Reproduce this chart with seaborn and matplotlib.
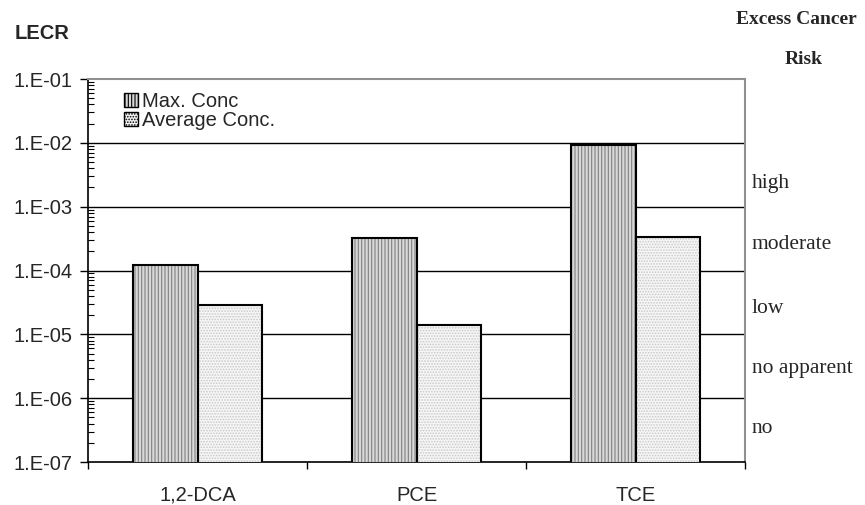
import matplotlib
matplotlib.use("Agg")
import matplotlib.pyplot as plt
import seaborn as sns
import pandas as pd
import numpy as np
from matplotlib.patches import Rectangle
from matplotlib.ticker import LogLocator, FixedLocator, NullFormatter

compounds = ["1,2-DCA", "PCE", "TCE"]
max_conc = [1.2e-4, 3.2e-4, 9.3e-3]
avg_conc = [2.9e-5, 1.4e-5, 3.4e-4]
series_names = ["Max. Conc", "Average Conc."]
y_tick_vals = [1e-7, 1e-6, 1e-5, 1e-4, 1e-3, 1e-2, 1e-1]
y_tick_labels = ["1.E-07", "1.E-06", "1.E-05", "1.E-04", "1.E-03", "1.E-02", "1.E-01"]
risk_labels = ["high", "moderate", "low", "no apparent", "no"]
risk_positions = [2.3e-3, 2.6e-4, 2.5e-5, 2.9e-6, 3.3e-7]

df = pd.DataFrame({
    "compound": compounds * 2,
    "value": max_conc + avg_conc,
    "series": [series_names[0]] * 3 + [series_names[1]] * 3,
})

sns.set_style("white")
plt.rcParams["font.family"] = ["Liberation Sans", "DejaVu Sans"]
plt.rcParams["hatch.linewidth"] = 0.8

fig = plt.figure(figsize=(8.65, 5.05), dpi=100)
ax = fig.add_axes([88 / 865, 1 - 462 / 505, 657 / 865, 383 / 505])

sns.barplot(data=df, x="compound", y="value", hue="series", ax=ax,
            width=0.585, palette=["#d8d8d8", "#f6f6f6"], saturation=1,
            legend=False, log_scale=(False, True), zorder=3)
ax.set_yscale("log")
ax.set_ylim(1e-7, 1e-1)
ax.set_xlim(-0.5, 2.5)

hatches = ["|||||", "......"]
hatch_cols = ["#808080", "#c8c8c8"]
patches = list(ax.patches)
for i, p in enumerate(patches):
    s = i // 3
    p.set_hatch(hatches[s])
    p.set_edgecolor(hatch_cols[s])
    p.set_linewidth(0)
    ax.add_patch(Rectangle(p.get_xy(), p.get_width(), p.get_height(),
                           fill=False, edgecolor="black", lw=1.5, zorder=4))

# gridlines
for v in y_tick_vals[1:-1]:
    ax.axhline(v, color="black", lw=1.0, zorder=1)

ax.set_yticks(y_tick_vals)
ax.set_yticklabels(y_tick_labels, fontsize=14.5)
ax.yaxis.set_minor_locator(LogLocator(base=10, subs=np.arange(2, 10)))
ax.yaxis.set_minor_formatter(NullFormatter())
ax.tick_params(axis="y", which="major", direction="out", length=6, width=1, color="black", pad=5, left=True)
ax.tick_params(axis="y", which="minor", direction="in", length=4, width=0.8, color="black", left=True)

ax.set_xticks([0, 1, 2])
ax.set_xticklabels(compounds, fontsize=14.5)
ax.xaxis.set_minor_locator(FixedLocator([-0.5, 0.5, 1.5, 2.5]))
ax.tick_params(axis="x", which="major", length=0, pad=17)
ax.tick_params(axis="x", which="minor", direction="out", length=5, width=1, color="black", bottom=True)

ax.set_xlabel("")
ax.set_ylabel("")

for side in ["left", "bottom"]:
    ax.spines[side].set_color("black")
    ax.spines[side].set_linewidth(1.2)
for side in ["top", "right"]:
    ax.spines[side].set_color("#909090")
    ax.spines[side].set_linewidth(1.5)
    ax.spines[side].set_visible(True)

# legend
handles = [Rectangle((0, 0), 1, 1, facecolor=c, hatch=h, edgecolor="black", lw=1)
           for c, h in zip(["#d8d8d8", "#f6f6f6"], hatches)]
leg = ax.legend(handles, series_names, loc="upper left", bbox_to_anchor=(0.042, 0.988),
                frameon=False, fontsize=14.5, handlelength=0.7, handleheight=0.7,
                handletextpad=0.2, labelspacing=0.0, borderaxespad=0)

# right side risk labels
for lab, pos in zip(risk_labels, risk_positions):
    ax.text(1.01, pos, lab, transform=ax.get_yaxis_transform(), fontsize=15.5,
            family=["Liberation Serif", "DejaVu Serif"], va="center", ha="left")

fig.text(70 / 865, 1 - 33 / 505, "LECR", fontsize=14.5, fontweight="bold", ha="right", va="center")
fig.text(796 / 865, 1 - 20 / 505, "Excess Cancer", fontsize=14, fontweight="bold",
         family=["Liberation Serif", "DejaVu Serif"], ha="center", va="center")
fig.text(804 / 865, 1 - 59 / 505, "Risk", fontsize=14, fontweight="bold",
         family=["Liberation Serif", "DejaVu Serif"], ha="center", va="center")

fig.savefig("out.png", dpi=100)
